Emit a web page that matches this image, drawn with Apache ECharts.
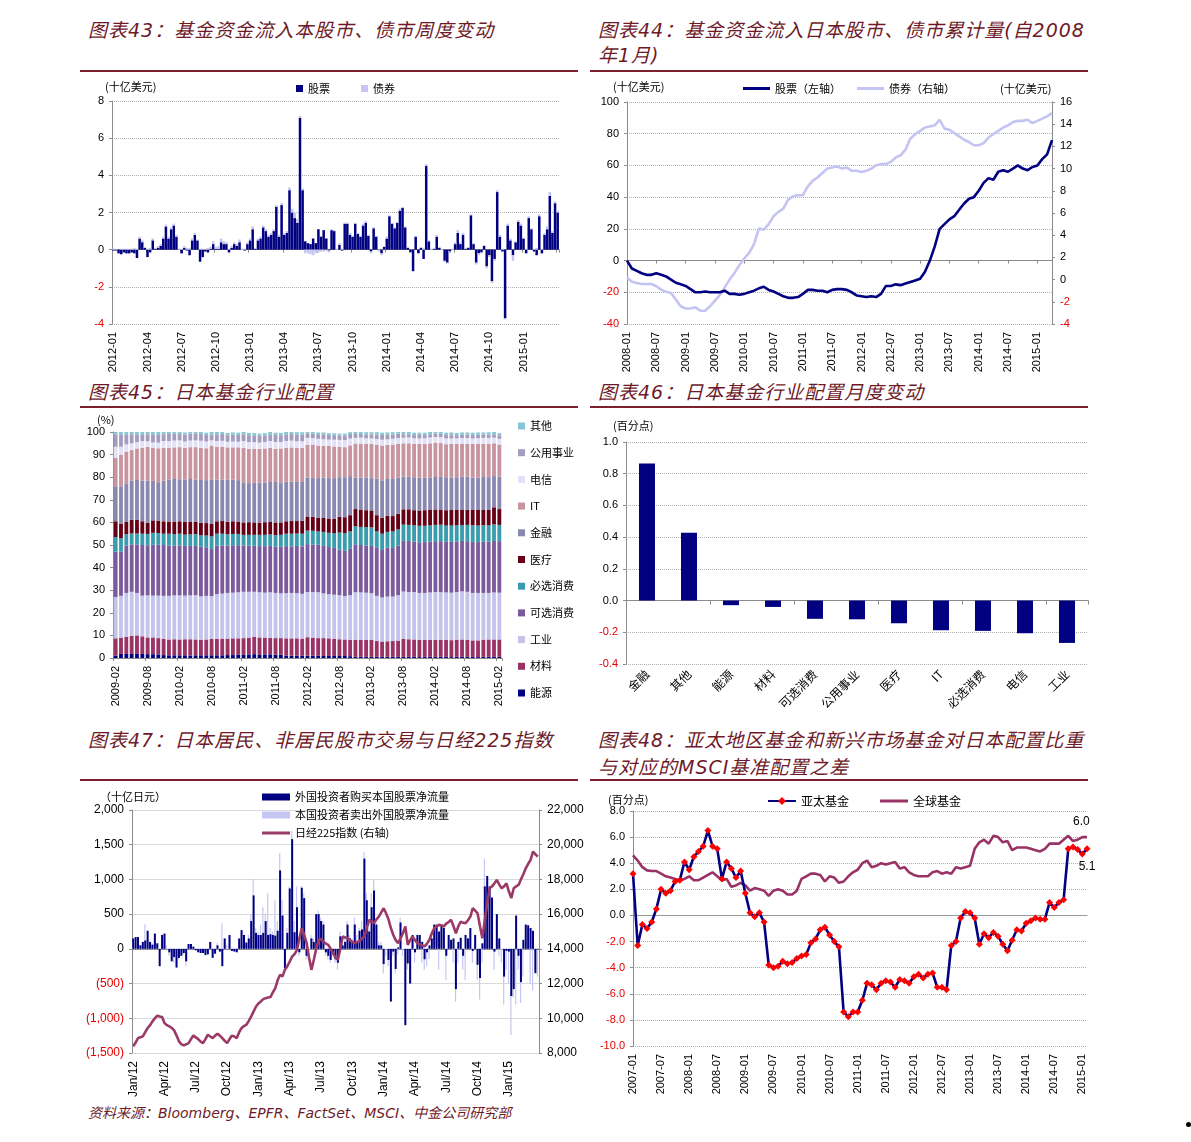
<!DOCTYPE html>
<html><head><meta charset="utf-8">
<script src="https://cdn.jsdelivr.net/npm/echarts@6.0.0/dist/echarts.min.js"></script>
<style>
html,body{margin:0;padding:0;background:#fff;width:1191px;height:1142px;overflow:hidden;}
.t{position:absolute;font-family:"DejaVu Sans","Noto Sans CJK SC",sans-serif;font-style:italic;font-size:19px;color:#6E1A28;letter-spacing:1px;white-space:nowrap;line-height:22px;}
.r{position:absolute;height:2px;background:#7E1F2E;}
.c{position:absolute;}
.dot{position:absolute;left:1186px;top:1122px;width:5px;height:5px;border-radius:50%;background:#000;}
</style></head>
<body>
<div class="t" style="left:88px;top:19px">图表43：基金资金流入本股市、债市周度变动</div>
<div class="t" style="left:598px;top:19px">图表44：基金资金流入日本股市、债市累计量(自2008</div>
<div class="t" style="left:598px;top:44px">年1月)</div>
<div class="r" style="left:80px;top:70px;width:498px"></div>
<div class="r" style="left:590px;top:70px;width:498px"></div>
<div class="t" style="left:88px;top:381px">图表45：日本基金行业配置</div>
<div class="t" style="left:598px;top:381px">图表46：日本基金行业配置月度变动</div>
<div class="r" style="left:80px;top:406px;width:498px"></div>
<div class="r" style="left:590px;top:406px;width:498px"></div>
<div class="t" style="left:88px;top:729px">图表47：日本居民、非居民股市交易与日经225指数</div>
<div class="t" style="left:598px;top:729px">图表48：亚太地区基金和新兴市场基金对日本配置比重</div>
<div class="t" style="left:598px;top:756px">与对应的MSCI基准配置之差</div>
<div class="r" style="left:80px;top:779px;width:498px"></div>
<div class="r" style="left:590px;top:779px;width:498px"></div>
<div class="t" style="left:88px;top:1102px;font-size:14px;letter-spacing:0">资料来源：Bloomberg、EPFR、FactSet、MSCI、中金公司研究部</div>
<div class="dot"></div>

<div id="c43" class="c" style="left:80px;top:75px;width:500px;height:305px"></div>
<div id="c44" class="c" style="left:588px;top:75px;width:503px;height:305px"></div>
<div id="c45" class="c" style="left:80px;top:408px;width:510px;height:310px"></div>
<div id="c46" class="c" style="left:588px;top:408px;width:503px;height:310px"></div>
<div id="c47" class="c" style="left:80px;top:782px;width:510px;height:318px"></div>
<div id="c48" class="c" style="left:588px;top:782px;width:510px;height:318px"></div>

<script>
// ---------- Chart 43 data (weekly, from 2012-01) ----------
const c43Ticks = ['2012-01','2012-04','2012-07','2012-10','2013-01','2013-04','2013-07','2013-10','2014-01','2014-04','2014-07','2014-10','2015-01'];
const c43Stock = [
-0.05,-0.05,-0.2,-0.25,-0.15,-0.2,-0.2,-0.15,-0.2,-0.45,
0.6,0.4,0.1,-0.4,-0.15,0.5,0.05,0.1,0.2,0.6,
1.25,0.6,1.1,1.3,0.7,0,-0.2,0.1,-0.05,-0.3,
0.5,0.8,0.5,-0.65,-0.4,-0.1,-0.15,0.05,0.3,0.05,
0.05,0.4,0.3,0.3,-0.15,0.1,0.3,0.2,0.4,0,
-0.05,0.3,0.5,1.1,0.05,0.5,0.6,1.2,1.0,0.7,
0.8,1.0,2.3,0.7,2.4,0.8,0.9,3.2,2.0,1.7,
1.45,7.1,3.2,0.45,0.35,0.3,0.6,0.35,1.1,0.7,
1.05,0.6,-0.05,1.05,1.0,0,0.25,-0.05,1.4,1.4,
0.8,0.7,1.4,0.85,0.7,1.3,1.45,0.75,-0.1,1.15,
0.7,0,-0.2,0.15,0.6,1.8,1.4,1.15,1.45,2.1,
2.25,1.2,0.1,-0.15,-1.15,0.7,-0.2,0.1,-0.5,4.5,
0.45,0,0.05,0.7,0.1,0,-0.6,-0.7,-0.1,0,
0.3,0.9,0.3,0.8,0.05,0.1,1.85,0.3,-0.7,-0.2,
-0.15,0.2,-0.9,-0.3,-1.7,-0.5,3.1,0.7,-0.1,-3.7,
1.3,0.5,-0.3,0.4,1.5,1.3,0.6,-0.2,1.7,1.1,
-0.1,-0.3,1.8,-0.2,0.8,1.1,2.9,0.9,2.5,2.0];
const c43Bond = [
0.05,0.05,0.0,0.05,0.05,0.05,0.05,0.05,0.1,0.05,
0.1,0.1,0.05,0.05,0.1,0.1,0.05,0.1,0.1,0.1,
0.1,0.1,0.1,0.1,0.1,0.05,0.05,0.1,0.1,0.1,
0.1,0.1,0.05,0.05,0.05,0.05,0.1,0.1,0.15,0.1,
0.15,0.2,0.15,0.1,0.05,0.1,0.1,0.1,0.15,0.05,
0.05,0.1,0.1,0.15,0.05,0.1,0.1,0.1,0.1,0.1,
0.1,0.1,0.1,0.1,0.1,0.1,0.1,0.15,0.2,0.3,
0.2,0.1,0.1,-0.2,-0.2,-0.25,-0.3,-0.2,-0.15,-0.1,
-0.1,-0.05,-0.1,0.05,0.05,0.05,0.1,0.05,0.05,0.05,
0.1,0.05,0.05,0.05,0.05,0.1,0.1,0.05,-0.1,0.05,
0.05,-0.1,-0.1,-0.05,0.1,0.05,0.05,0.05,0.05,0.1,
0.05,0.05,0.05,-0.05,-0.05,0.05,-0.05,0.05,0.1,0.1,
0.05,0.05,0.05,0.1,0.05,0.05,-0.05,-0.05,-0.1,0.05,
0.1,0.15,0.1,0.1,0.05,0.05,0.05,0.05,-0.1,-0.1,
-0.05,0.05,-0.1,-0.1,-0.1,-0.1,0.1,0.1,0.05,-0.05,
0.1,0.1,-0.3,0.05,0.1,0.1,0.05,0.05,0.1,0.05,
0.05,0.1,0.1,0.05,0.1,0.15,0.2,0.1,0.1,0.1];

// ---------- Chart 44 data (monthly, from 2008-01) ----------
const c44Stock = [0,-5,-6.5,-8,-9,-9,-8,-9,-10,-12,-14,-15,-16,-18,-20,-20,-19.5,-20,-20,-20,
-19,-21,-21,-21.5,-21,-20,-19,-17.5,-16.5,-18.5,-19.5,-21,-22.5,-23.5,-23.5,-23,-21,-18.5,-18.5,-19,
-19,-20,-18.5,-18,-18,-18.5,-20,-22,-22.5,-23,-22.5,-23,-21,-16,-16,-15,-15.5,-14.5,-13.5,-12.5,
-11.5,-7,0,9,20,23,26,28,32,36,39,40,44,49,52,51,56,57,56,58,60,58,57,59,60,64,67,76];
const c44Bond = [0.2,-0.2,-0.3,-0.4,-0.4,-0.4,-0.6,-0.9,-1.1,-1.2,-1.8,-2.4,-2.6,-2.6,-2.5,-2.8,-2.8,-2.4,-1.9,-1.4,
-0.7,0,0.6,1.3,1.9,2.4,3.2,4.6,4.5,5.0,5.7,6.1,6.4,7.2,7.5,7.6,7.6,8.4,8.9,9.2,
9.6,10.0,10.1,10.2,10.0,10.1,9.8,9.8,9.7,9.8,10.0,10.3,10.4,10.4,10.6,11.0,11.2,11.7,12.7,13.1,
13.4,13.7,13.8,13.9,14.4,13.6,13.5,13.2,12.9,12.6,12.4,12.1,12.1,12.3,12.8,13.1,13.4,13.7,13.9,14.2,
14.3,14.3,14.4,14.1,14.3,14.5,14.7,15.0];

// ---------- Chart 45 data (monthly, 2009-02 .. 2015-02, %) ----------
const c45Names = ['能源','材料','工业','可选消费','必选消费','医疗','金融','IT','电信','公用事业','其他'];
const c45Energy = [1.0,1.8,1.8,1.8,1.8,1.8,1.7,1.7,1.6, 1.3,1.2,1.2,1.2,1.2,1.1,1.2,1.2,1.2, 1.2, 1.2,1.2,1.3,1.3,1.4,
 1.6,1.6,1.7,1.6,1.6,1.6,1.5,1.4, 1.1,1.0,1.0,1.0, 1.0,1.0,1.0,0.9,0.9,0.9, 0.9,0.9,0.8, 0.5,0.5,0.5,0.5, 0.5,0.5,0.5,0.5,0.5,
 0.5,0.5,0.5,0.4,0.5,0.5,0.5,0.5,0.5,0.4,0.5,0.5,0.5,0.5,0.4,0.5,0.5,0.5,0.5];
const c45Mat = [7.7,7.2,7.5,8.0,8.2,7.8,7.4,7.4,7.2, 7.2,7.0,7.1,7.0,7.1,7.2,7.0,6.9,7.0, 7.2, 7.3,7.4,7.3,7.4,7.3,
 7.2,7.3,7.6,7.5,7.4,7.3,7.3,7.4, 7.6,7.7,7.7,7.6, 8.2,8.0,7.8,7.9,7.8,7.6, 7.4,7.3,7.2, 7.6,7.5,7.6,7.6, 7.0,6.8,6.9,7.0,7.2,
 7.9,7.8,7.7,7.6,7.6,7.5,7.5,7.6,7.6,7.5,7.6,7.7,7.6,7.3,7.4,7.6,7.7,7.7,7.7];
const c45Ind = [18.3,18.5,19.5,19.5,18.8,18.0,18.6,18.5,18.8, 19.0,19.3,19.4,19.5,19.3,19.4,19.6,19.2,19.3, 19.0, 19.8,19.9,20.2,20.2,20.4,
 20.5,20.4,20.0,20.0,19.9,20.2,20.0,19.8, 20.0,20.1,20.0,19.8, 20.0,20.2,20.3,19.8,19.6,19.5, 19.5,19.2,19.8, 21.0,21.0,20.8,20.6, 20.0,19.5,19.8,19.7,20.1,
 21.0,20.9,21.0,20.8,20.7,21.0,21.2,21.0,20.9,21.0,21.1,21.3,21.2,21.0,21.0,20.7,20.6,20.8,20.7];
const c45Disc = [20.0,19.5,21.0,21.0,21.5,22.4,22.2,22.5,22.5, 22.5,22.3,22.0,22.1,22.0,21.9,21.8,21.9,21.5, 20.8, 21.5,21.2,21.0,21.0,20.8,
 20.5,20.4,20.3,20.4,20.6,20.5,20.4,20.6, 20.8,20.6,20.9,21.0, 21.2,21.0,21.0,21.0,20.8,20.7, 20.2,20.0,20.5, 21.2,21.0,20.9,20.9, 21.5,21.0,21.6,21.5,22.0,
 22.4,22.6,22.3,22.4,22.5,22.6,22.5,22.6,22.4,22.5,22.4,22.3,22.4,22.6,22.5,22.6,22.7,22.8,22.8];
const c45Stap = [6.5,6.0,5.0,4.8,4.8,5.0,5.0,5.3,5.2, 5.0,5.2,5.1,5.2,5.0,5.1,5.2,5.1,5.2, 5.6, 5.2,5.3,5.0,5.0,5.0,
 4.7,4.8,4.9,5.0,5.0,5.1,5.2,5.3, 5.5,5.6,5.5,5.6, 6.0,6.1,5.9,6.2,6.3,6.5, 7.5,7.8,7.7, 8.0,8.0,8.1,8.2, 7.0,7.2,7.0,7.3,7.1,
 7.2,7.1,7.2,7.3,7.2,7.1,7.2,7.3,7.2,7.2,7.1,7.0,7.2,7.3,7.3,7.3,7.2,7.3,7.2];
const c45Health = [7.0,6.5,5.5,6.0,6.0,5.5,5.0,5.5,5.5, 5.5,5.4,5.6,5.5,5.6,5.5,5.4,5.6,5.5, 5.5, 5.5,5.6,5.5,5.6,5.5,
 5.5,5.6,5.5,5.4,5.6,5.5,5.6,5.5, 5.5,5.6,5.5,5.7, 6.0,6.2,6.0,6.2,6.1,6.4, 7.0,7.1,7.2, 7.6,7.7,7.5,7.5, 7.2,7.0,7.1,6.8,6.9,
 6.8,6.9,6.7,6.8,6.9,7.0,6.8,6.7,6.8,6.9,6.8,6.9,6.7,6.8,6.9,6.8,6.8,7.6,7.0];
const c45Fin = [15.5,16.5,17.0,17.5,18.0,18.0,18.5,17.5,17.0, 18.0,18.5,18.8,18.6,18.8,19.0,18.8,18.9,19.0, 19.5, 18.5,18.3,18.5,18.4,18.3,
 17.5,17.3,17.5,17.8,17.6,17.7,17.9,17.4, 17.5,17.4,17.6,17.2, 17.5,17.2,17.6,17.8,18.1,18.0, 17.5,17.7,17.3, 14.0,14.2,14.4,14.3, 16.2,16.6,16.3,16.4,16.0,
 14.5,14.4,14.6,14.5,14.3,14.2,14.4,14.5,14.6,14.4,14.5,14.5,14.6,14.4,14.3,14.6,14.5,13.8,14.3];
const c45IT = [12.5,14.0,14.0,13.4,13.6,14.5,15.0,14.5,15.0, 14.5,14.2,14.0,14.2,14.0,14.1,14.3,14.2,14.1, 15.0, 14.5,14.6,14.4,14.3,14.5,
 15.5,15.2,15.0,14.8,15.0,15.1,14.7,15.3, 15.0,15.2,14.8,15.0, 14.5,14.7,14.4,14.0,14.2,14.0, 13.5,13.3,13.6, 15.0,15.0,14.9,15.1, 15.0,15.4,15.1,15.2,15.0,
 14.7,14.8,14.7,14.9,15.0,15.1,15.2,14.9,14.6,14.8,14.7,14.5,14.6,14.8,15.0,14.7,14.8,14.5,14.3];
const c45Tel = [5.0,3.5,3.2,3.0,2.8,3.0,2.5,2.5,2.5, 3.0,2.9,3.0,3.0,2.8,2.9,3.0,3.1,3.0, 2.5, 2.5,2.6,2.5,2.6,2.5,
 3.0,2.9,3.0,2.8,2.9,3.0,3.0,2.9, 3.0,3.0,2.9,3.0, 3.0,2.9,3.0,3.0,2.8,3.0, 3.0,3.1,3.0, 2.5,2.6,2.5,2.5, 2.5,2.6,2.5,2.6,2.5,
 2.5,2.6,2.5,2.4,2.5,2.6,2.5,2.6,2.5,2.4,2.5,2.6,2.5,2.4,2.5,2.6,2.6,2.5,2.5];
const c45Util = [5.5,5.5,4.5,4.0,3.5,3.0,3.1,3.6,3.7, 3.0,3.1,3.0,2.9,3.0,3.1,3.0,3.0,2.9, 2.5, 3.0,3.0,2.9,3.0,3.0,
 3.0,3.1,3.0,3.0,2.9,3.0,3.1,3.0, 3.0,2.9,3.0,3.0, 2.0,2.1,2.0,2.2,2.1,2.0, 2.0,2.1,2.0, 1.7,1.6,1.7,1.7, 2.0,2.1,2.0,1.9,2.0,
 1.5,1.4,1.5,1.6,1.5,1.4,1.5,1.5,1.6,1.5,1.4,1.5,1.5,1.6,1.5,1.4,1.5,1.5,1.5];
const c45Other = [1.0,1.0,1.0,1.0,1.0,1.0,1.0,1.0,1.0, 1.0,1.0,1.0,1.0,1.0,1.0,1.0,1.0,1.0, 1.2, 1.0,1.0,1.0,1.0,1.0,
 1.0,1.0,1.0,1.0,1.0,1.0,1.0,1.0, 1.0,1.0,1.0,1.0, 0.8,0.8,0.8,0.8,0.8,0.8, 0.8,0.8,0.8, 1.0,1.0,1.0,1.0, 1.0,1.0,1.0,1.0,1.0,
 1.0,1.0,1.0,1.0,1.0,1.0,1.0,1.0,1.0,1.2,1.0,1.0,1.0,1.0,1.0,1.0,1.0,1.0,1.0];

// ---------- Chart 46 data ----------
const c46Cats = ['金融','其他','能源','材料','可选消费','公用事业','医疗','IT','必选消费','电信','工业'];
const c46Vals = [0.865,0.428,-0.029,-0.04,-0.115,-0.118,-0.143,-0.187,-0.191,-0.206,-0.267];

// ---------- Chart 47 data (weekly, from Jan 2012) ----------
const c47Ticks = ['Jan/12','Apr/12','Jul/12','Oct/12','Jan/13','Apr/13','Jul/13','Oct/13','Jan/14','Apr/14','Jul/14','Oct/14','Jan/15'];
const c47Foreign = [
150,170,170,50,100,120,260,100,60,220,
80,-250,200,220,0,-50,-180,-120,-270,-130,
-100,-60,-180,70,70,30,-20,-50,-60,-60,
-90,-80,100,-130,-70,50,-40,-250,150,0,
200,-30,-40,-50,150,270,200,90,150,400,
770,230,200,200,230,400,200,210,200,190,
260,1130,480,-280,230,870,1580,240,600,-50,
880,730,-100,0,150,100,500,500,400,350,
-50,-100,-160,-50,-150,-200,180,50,100,350,
150,90,350,100,260,280,1300,700,250,600,
840,350,50,50,-220,0,-160,-760,-40,-290,
20,380,0,-1100,-210,-500,200,-50,200,200,
100,-150,-50,50,150,350,350,250,350,300,
-100,200,130,150,-580,100,160,-100,200,150,
300,-30,200,-230,-420,80,900,1050,900,740,
-40,500,150,0,-400,-30,-40,-680,-580,480,
-100,-480,130,350,340,300,260,-350,-10];
const c47Domestic = [
100,80,120,60,100,350,150,60,80,200,
60,-150,180,100,50,-100,-150,-200,-250,-150,
-100,-80,-250,50,60,40,-30,-40,-50,-40,
-60,-60,100,-100,-50,80,-40,370,100,60,
180,-20,-30,-40,120,250,200,100,200,500,
1000,300,250,350,600,500,800,300,250,700,
400,1380,700,-200,300,900,1700,400,900,-100,
900,800,-150,-80,200,150,500,550,450,400,
-100,-150,-200,-100,-200,-300,250,100,150,400,
200,150,450,200,300,400,1400,800,300,800,
990,400,100,100,-350,-100,-250,-700,-100,-350,
-80,450,-100,-900,-300,-500,150,-200,150,150,
-200,-300,-250,-150,200,300,300,-300,300,250,
-450,150,100,-200,-760,-200,150,-300,-450,150,
250,-200,100,-450,-730,-200,1300,1000,800,700,
-300,400,-100,-200,-800,-300,-500,-1240,-700,-800,
-300,-780,-400,200,300,-500,-600,-300,-400];
const c47Nikkei = [
8380,8600,8860,8900,8960,9200,9440,9600,9820,10000,
10150,10100,10070,9720,9600,9530,9450,9300,9000,8670,
8500,8440,8500,8570,8800,9000,8900,8800,8650,8570,
8800,9050,8950,8860,9000,9110,9000,8860,8700,8570,
8800,9000,8950,8860,9200,9440,9550,9630,9850,10110,
10400,10680,10850,10970,11100,11160,11200,11220,11500,11740,
12200,12510,12410,12800,13000,13270,13560,13700,13940,14600,
15190,14800,14330,13500,12790,13370,14000,14520,14560,14400,
14300,14230,14000,13750,13500,13370,14000,14710,14650,14610,
14500,14400,14330,14400,14420,14600,14710,15200,15670,15550,
15480,15700,15860,16100,16340,16050,15700,15190,14800,14500,
14330,14600,14900,15290,14230,14500,14710,14500,14330,14250,
14200,14140,14300,14520,14900,15190,15300,15380,15350,15290,
15450,15550,15670,15300,14900,15300,15570,15500,15480,15650,
15860,16340,16200,16050,15300,14610,15670,16600,17490,17600,
17780,17970,17700,17490,17600,17780,17300,16920,17490,17600,
17680,18000,18300,18640,18900,19120,19600,19450,19310];

// ---------- Chart 48 data (monthly, from 2007-01) ----------
const c48Asia = [3.2,-2.3,-0.7,-1.0,-0.5,0.5,2.0,1.7,1.9,2.6, 2.7,4.1,3.5,4.5,4.9,5.3,6.5,5.3,5.1,2.8,
4.1,3.6,2.9,3.4,1.7,0.2,-0.1,0.2,-0.5,-3.8, -4.0,-3.9,-3.5,-3.7,-3.6,-3.3,-3.1,-3.0,-2.1,-1.8,
-1.1,-0.9,-1.5,-2.0,-2.4,-7.4,-7.75,-7.4,-7.4,-6.5, -5.2,-5.3,-5.7,-5.2,-5.0,-5.1,-5.5,-4.9,-5.0,-5.2,
-4.7,-4.5,-4.8,-4.5,-4.4,-5.5,-5.5,-5.7,-2.3,-2.0, -0.2,0.3,0.2,-0.2,-2.2,-1.4,-1.7,-1.3,-1.6,-2.2,
-2.7,-1.9,-1.1,-1.2,-0.6,-0.4,-0.2,-0.3,-0.3,1.0, 0.6,1.0,1.2,5.1,5.25,5.05,4.7,5.1];
const c48Global = [4.6,4.2,3.7,3.45,3.4,3.4,3.2,3.0,2.9,2.8, 2.7,2.8,3.0,2.7,2.7,2.9,3.1,3.3,3.0,2.7,
2.8,2.2,2.3,2.5,2.3,1.9,2.1,2.0,1.9,1.5, 1.9,2.0,1.9,1.6,1.6,1.9,2.8,3.0,3.2,3.2,
3.1,2.6,3.0,2.9,2.5,2.6,3.0,3.3,3.5,4.0, 4.2,3.7,3.8,4.0,3.9,4.0,4.1,3.6,3.7,3.3,
3.1,3.0,3.0,3.0,3.3,3.4,3.2,3.3,3.2,3.7, 3.6,3.7,3.8,5.1,5.6,5.8,5.5,6.1,6.0,5.6,
5.7,5.0,5.2,5.2,5.2,5.1,5.0,4.9,5.1,5.5, 5.5,5.5,5.8,6.1,5.7,5.8,6.0,6.0];

// ---------- helpers ----------
const LAT = '"Liberation Sans", Arial, "Noto Sans CJK SC", sans-serif';
const CJK = '"Noto Sans CJK SC", sans-serif';
function weekCats(y, m, d, n){ const a=[]; const t0=Date.UTC(y,m,d); for(let i=0;i<n;i++){a.push(new Date(t0+i*7*86400000).toISOString().slice(0,10));} return a; }
function monthCats(y, m, n){ const a=[]; for(let i=0;i<n;i++){const mm=m+i; const yy=y+Math.floor((mm-1)/12); const k=((mm-1)%12)+1; a.push(yy+'-'+(k<10?'0':'')+k);} return a; }
const red = v => Number(v) < 0 ? '#E60000' : '#000';
const gridDot = {lineStyle:{type:'dotted', color:'#B0B0B0', width:1}};
const axGray = {show:true, lineStyle:{color:'#8C8C8C'}};
function unit(txt, x, y){ return {type:'text', left:x, top:y, style:{text:txt, font:'11px "Noto Sans CJK SC"', fill:'#000'}}; }

// ---------- Chart 43 ----------
(function(){
  const cats = weekCats(2012,0,6,c43Stock.length);
  const ch = echarts.init(document.getElementById('c43'));
  ch.setOption({
    animation:false, textStyle:{fontFamily:LAT},
    grid:{left:32, right:21, top:26, bottom:56},
    graphic:[unit('(十亿美元)',25,6)],
    legend:{left:211, top:3, icon:'rect', itemWidth:7, itemHeight:7, itemGap:31, textStyle:{fontFamily:CJK, fontSize:11, color:'#000'}, data:['股票','债券']},
    xAxis:[
      {type:'category', data:cats, axisLine:{onZero:true, lineStyle:{color:'#8C8C8C'}}, axisTick:{show:true, interval:12, length:3, lineStyle:{color:'#8C8C8C'}}, axisLabel:{show:false}},
      {type:'category', data:cats, position:'bottom', axisLine:{show:false, onZero:false}, axisTick:{show:false},
       axisLabel:{interval:12, rotate:90, fontSize:11, color:'#000', formatter:(v,i)=>c43Ticks[Math.round(i/13)]}}
    ],
    yAxis:{type:'value', min:-4, max:8, interval:2, axisLine:axGray, axisTick:{show:true, length:3}, axisLabel:{fontSize:11, color:red}, splitLine:gridDot},
    series:[
      {name:'股票', type:'bar', stack:'f', data:c43Stock, barCategoryGap:'5%', itemStyle:{color:'#000080'}},
      {name:'债券', type:'bar', stack:'f', data:c43Bond, itemStyle:{color:'#C6C6F2'}}
    ]
  });
})();

// ---------- Chart 44 ----------
(function(){
  const cats = monthCats(2008,1,c44Stock.length);
  const ch = echarts.init(document.getElementById('c44'));
  ch.setOption({
    animation:false, textStyle:{fontFamily:LAT},
    grid:{left:39, right:39, top:27, bottom:56},
    graphic:[unit('(十亿美元)',25,6), unit('(十亿美元)',412,8)],
    legend:{left:150, top:3, icon:'rect', itemWidth:27, itemHeight:3, itemGap:16, textStyle:{fontFamily:CJK, fontSize:11, color:'#000'}, data:['股票（左轴）','债券（右轴）']},
    xAxis:[
      {type:'category', data:cats, boundaryGap:false, axisLine:{onZero:true, lineStyle:{color:'#8C8C8C'}}, axisTick:{show:true, interval:5, length:3, lineStyle:{color:'#8C8C8C'}}, axisLabel:{show:false}},
      {type:'category', data:cats, boundaryGap:false, position:'bottom', axisLine:{show:false, onZero:false}, axisTick:{show:false},
       axisLabel:{interval:5, rotate:90, fontSize:11, color:'#000'}}
    ],
    yAxis:[
      {type:'value', min:-40, max:100, interval:20, axisLine:axGray, axisTick:{show:true, length:3}, axisLabel:{fontSize:11, color:red}, splitLine:gridDot},
      {type:'value', min:-4, max:16, interval:2, position:'right', axisLine:axGray, axisTick:{show:true, length:3}, axisLabel:{fontSize:11, color:red}, splitLine:{show:false}}
    ],
    series:[
      {name:'债券（右轴）', type:'line', yAxisIndex:1, data:c44Bond, symbol:'none', lineStyle:{color:'#C4C4F2', width:2.6}, itemStyle:{color:'#C4C4F2'}},
      {name:'股票（左轴）', type:'line', yAxisIndex:0, data:c44Stock, symbol:'none', lineStyle:{color:'#000080', width:2.6}, itemStyle:{color:'#000080'}}
    ]
  });
})();

// ---------- Chart 45 ----------
(function(){
  const cats = monthCats(2009,2,c45Energy.length);
  const sets = [c45Energy,c45Mat,c45Ind,c45Disc,c45Stap,c45Health,c45Fin,c45IT,c45Tel,c45Util,c45Other];
  const cols = ['#000080','#993366','#C3C3EB','#7B5B9E','#3A9DAE','#660016','#8A88B0','#C8949F','#E3E1F7','#A49DBF','#86C7D3'];
  const ch = echarts.init(document.getElementById('c45'));
  ch.setOption({
    animation:false, textStyle:{fontFamily:LAT},
    grid:{left:33, right:88, top:24, bottom:60},
    graphic:[unit('(%)',17,6)],
    legend:{orient:'vertical', left:433, top:6, icon:'rect', itemWidth:7, itemHeight:7, itemGap:12.7,
      textStyle:{fontFamily:CJK, fontSize:11, color:'#000', lineHeight:14}, data:c45Names.slice().reverse()},
    xAxis:{type:'category', data:cats, axisLine:axGray, axisTick:{show:true, interval:5, length:3},
      axisLabel:{interval:5, rotate:90, fontSize:11, color:'#000'}},
    yAxis:{type:'value', min:0, max:100, interval:10, axisLine:axGray, axisTick:{show:true, length:3}, axisLabel:{fontSize:11, color:'#000'}, splitLine:{show:false}},
    series: sets.map((d,k)=>({name:c45Names[k], type:'bar', stack:'s', data:d, barCategoryGap:'28%', itemStyle:{color:cols[k]}}))
  });
})();

// ---------- Chart 46 ----------
(function(){
  const ch = echarts.init(document.getElementById('c46'));
  ch.setOption({
    animation:false, textStyle:{fontFamily:LAT},
    grid:{left:38, right:3, top:34, bottom:54},
    graphic:[unit('(百分点)',25,12)],
    xAxis:[
      {type:'category', data:c46Cats, axisLine:{onZero:true, lineStyle:{color:'#8C8C8C'}}, axisTick:{show:true, length:4, lineStyle:{color:'#8C8C8C'}}, axisLabel:{show:false}},
      {type:'category', data:c46Cats, position:'bottom', axisLine:{show:false, onZero:false}, axisTick:{show:false},
       axisLabel:{interval:0, rotate:45, fontSize:12, fontFamily:CJK, color:'#000', margin:8}}
    ],
    yAxis:{type:'value', min:-0.4, max:1.0, interval:0.2, axisLine:axGray, axisTick:{show:true, length:3},
      axisLabel:{fontSize:11, color:red, formatter:v=>Number(v).toFixed(1)}, splitLine:gridDot},
    series:[{type:'bar', data:c46Vals, barWidth:16, itemStyle:{color:'#000080'}}]
  });
})();

// ---------- Chart 47 ----------
(function(){
  const cats = weekCats(2012,0,6,c47Foreign.length);
  const ch = echarts.init(document.getElementById('c47'));
  const fmt = v => { v = Number(v); const s = Math.abs(v).toLocaleString('en-US'); return v < 0 ? '(' + s + ')' : s; };
  ch.setOption({
    animation:false, textStyle:{fontFamily:LAT},
    grid:{left:52, right:51, top:28, bottom:47},
    graphic:[unit('（十亿日元）',20,9)],
    legend:[
      {orient:'vertical', left:177, top:4, icon:'rect', itemWidth:28, itemHeight:7, itemGap:6,
       textStyle:{fontFamily:CJK, fontSize:11, color:'#000', lineHeight:12},
       data:['外国投资者购买本国股票净流量','本国投资者卖出外国股票净流量']},
      {left:177, top:40, icon:'rect', itemWidth:28, itemHeight:3,
       textStyle:{fontFamily:CJK, fontSize:11, color:'#000', lineHeight:12},
       data:['日经225指数 (右轴)']}
    ],
    xAxis:[
      {type:'category', data:cats, axisLine:{onZero:true, lineStyle:{color:'#8C8C8C'}}, axisTick:{show:false}, axisLabel:{show:false}},
      {type:'category', data:cats, position:'bottom', axisLine:{show:false, onZero:false}, axisTick:{show:false},
       axisLabel:{interval:12, rotate:90, fontSize:12, color:'#000', formatter:(v,i)=>c47Ticks[Math.round(i/13)]}}
    ],
    yAxis:[
      {type:'value', min:-1500, max:2000, interval:500, axisLine:axGray, axisTick:{show:true, length:3},
       axisLabel:{fontSize:12, color:red, formatter:fmt}, splitLine:{lineStyle:{color:'#DADADA'}}},
      {type:'value', min:8000, max:22000, interval:2000, position:'right', axisLine:axGray, axisTick:{show:true, length:3},
       axisLabel:{fontSize:12, color:'#000', formatter:fmt}, splitLine:{show:false}}
    ],
    series:[
      {name:'本国投资者卖出外国股票净流量', type:'bar', data:c47Domestic, barWidth:1.2, barGap:'-100%', itemStyle:{color:'#C6C6F2'}},
      {name:'外国投资者购买本国股票净流量', type:'bar', data:c47Foreign, barWidth:2, itemStyle:{color:'#000080'}},
      {name:'日经225指数 (右轴)', type:'line', yAxisIndex:1, data:c47Nikkei, symbol:'none', lineStyle:{color:'#9B3A66', width:2.6}, itemStyle:{color:'#9B3A66'}}
    ]
  });
})();

// ---------- Chart 48 ----------
(function(){
  const cats = monthCats(2007,1,c48Asia.length);
  const n = cats.length;
  const ch = echarts.init(document.getElementById('c48'));
  ch.setOption({
    animation:false, textStyle:{fontFamily:LAT},
    grid:{left:45, right:11, top:29, bottom:54},
    graphic:[unit('(百分点)',20,12)],
    legend:[
      {left:174, top:8, itemWidth:28, itemHeight:10, textStyle:{fontFamily:CJK, fontSize:12, color:'#000'}, data:['亚太基金']},
      {left:287, top:7, icon:'rect', itemWidth:28, itemHeight:3, textStyle:{fontFamily:CJK, fontSize:12, color:'#000', lineHeight:14}, data:['全球基金']}
    ],
    xAxis:[
      {type:'category', data:cats, boundaryGap:false, axisLine:{onZero:true, lineStyle:{color:'#9A9A9A'}}, axisTick:{show:false}, axisLabel:{show:false}},
      {type:'category', data:cats, boundaryGap:false, position:'bottom', axisLine:{show:false, onZero:false}, axisTick:{show:false},
       axisLabel:{interval:5, rotate:90, fontSize:11, color:'#000'}}
    ],
    yAxis:{type:'value', min:-10, max:8, interval:2, axisLine:axGray, axisTick:{show:true, length:3},
      axisLabel:{fontSize:11, color:red, formatter:v=>Number(v).toFixed(1)}, splitLine:gridDot},
    series:[
      {name:'全球基金', type:'line', data:c48Global, symbol:'none', lineStyle:{color:'#993366', width:2.6}, itemStyle:{color:'#993366'},
       endLabel:{show:true, formatter:p=>Number(p.value).toFixed(1), offset:[-22,-15], fontSize:12, color:'#000'}},
      {name:'亚太基金', type:'line', data:c48Asia, symbol:'diamond', symbolSize:7, showAllSymbol:true, lineStyle:{color:'#000080', width:2.6}, itemStyle:{color:'#FF0000'},
       label:{show:true, position:'bottom', distance:8, fontSize:12, color:'#000', formatter:p=>p.dataIndex===n-1?Number(p.value).toFixed(1):''}}
    ]
  });
})();
</script>
</body></html>
